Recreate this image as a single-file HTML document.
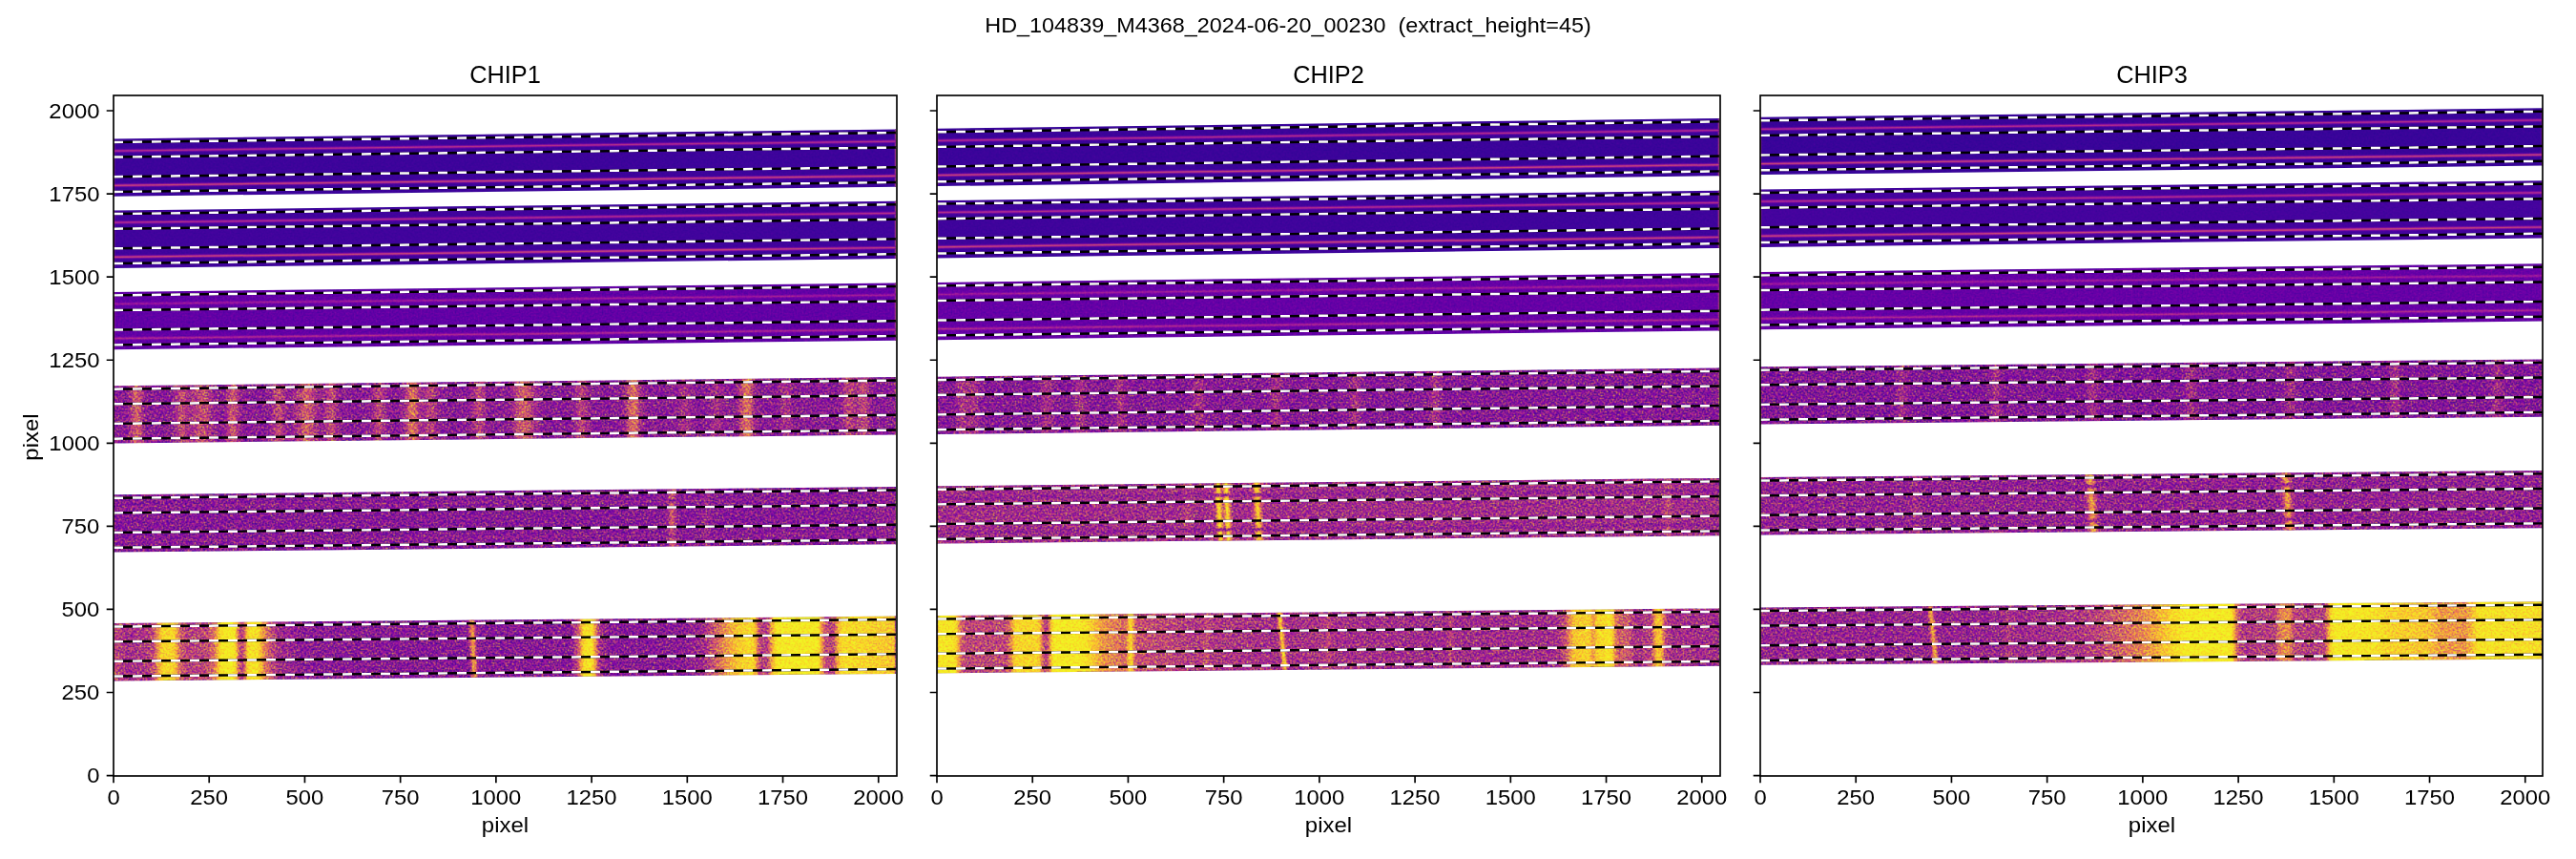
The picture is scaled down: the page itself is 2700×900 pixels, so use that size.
<!DOCTYPE html><html><head><meta charset="utf-8"><style>html,body{margin:0;padding:0;background:#fff;overflow:hidden}svg{display:block;will-change:transform}text{font-family:"Liberation Sans",sans-serif;fill:#000}</style></head><body>
<svg width="2700" height="900" viewBox="0 0 2700 900">
<defs><linearGradient id="g00" gradientUnits="userSpaceOnUse" x1="119" y1="0" x2="939" y2="0"><stop offset="0.0000" stop-color="#141414"/><stop offset="1.0000" stop-color="#141414"/></linearGradient>
<linearGradient id="g01" gradientUnits="userSpaceOnUse" x1="119" y1="0" x2="939" y2="0"><stop offset="0.0000" stop-color="#161616"/><stop offset="1.0000" stop-color="#161616"/></linearGradient>
<linearGradient id="g02" gradientUnits="userSpaceOnUse" x1="119" y1="0" x2="939" y2="0"><stop offset="0.0000" stop-color="#282828"/><stop offset="1.0000" stop-color="#282828"/></linearGradient>
<linearGradient id="g03" gradientUnits="userSpaceOnUse" x1="119" y1="0" x2="939" y2="0"><stop offset="0.0000" stop-color="#454545"/><stop offset="0.0122" stop-color="#454545"/><stop offset="0.0171" stop-color="#494949"/><stop offset="0.0195" stop-color="#505050"/><stop offset="0.0207" stop-color="#555555"/><stop offset="0.0268" stop-color="#7a7a7a"/><stop offset="0.0280" stop-color="#7f7f7f"/><stop offset="0.0293" stop-color="#818181"/><stop offset="0.0305" stop-color="#808080"/><stop offset="0.0317" stop-color="#7c7c7c"/><stop offset="0.0329" stop-color="#767676"/><stop offset="0.0378" stop-color="#585858"/><stop offset="0.0402" stop-color="#4d4d4d"/><stop offset="0.0427" stop-color="#484848"/><stop offset="0.0476" stop-color="#454545"/><stop offset="0.0683" stop-color="#454545"/><stop offset="0.0744" stop-color="#474747"/><stop offset="0.0780" stop-color="#4f4f4f"/><stop offset="0.0854" stop-color="#717171"/><stop offset="0.0866" stop-color="#747474"/><stop offset="0.0878" stop-color="#747474"/><stop offset="0.0902" stop-color="#707070"/><stop offset="0.0951" stop-color="#5d5d5d"/><stop offset="0.0976" stop-color="#585858"/><stop offset="0.0988" stop-color="#585858"/><stop offset="0.1024" stop-color="#5e5e5e"/><stop offset="0.1098" stop-color="#727272"/><stop offset="0.1134" stop-color="#757575"/><stop offset="0.1159" stop-color="#737373"/><stop offset="0.1183" stop-color="#6e6e6e"/><stop offset="0.1256" stop-color="#575757"/><stop offset="0.1293" stop-color="#4e4e4e"/><stop offset="0.1341" stop-color="#484848"/><stop offset="0.1378" stop-color="#474747"/><stop offset="0.1402" stop-color="#4a4a4a"/><stop offset="0.1427" stop-color="#505050"/><stop offset="0.1451" stop-color="#5b5b5b"/><stop offset="0.1488" stop-color="#707070"/><stop offset="0.1500" stop-color="#767676"/><stop offset="0.1512" stop-color="#797979"/><stop offset="0.1524" stop-color="#7a7a7a"/><stop offset="0.1537" stop-color="#797979"/><stop offset="0.1549" stop-color="#757575"/><stop offset="0.1598" stop-color="#5a5a5a"/><stop offset="0.1622" stop-color="#4f4f4f"/><stop offset="0.1646" stop-color="#494949"/><stop offset="0.1671" stop-color="#464646"/><stop offset="0.1902" stop-color="#454545"/><stop offset="0.1976" stop-color="#474747"/><stop offset="0.2012" stop-color="#4d4d4d"/><stop offset="0.2037" stop-color="#575757"/><stop offset="0.2085" stop-color="#6e6e6e"/><stop offset="0.2098" stop-color="#727272"/><stop offset="0.2110" stop-color="#737373"/><stop offset="0.2122" stop-color="#737373"/><stop offset="0.2134" stop-color="#707070"/><stop offset="0.2183" stop-color="#595959"/><stop offset="0.2207" stop-color="#505050"/><stop offset="0.2232" stop-color="#4b4b4b"/><stop offset="0.2256" stop-color="#4a4a4a"/><stop offset="0.2280" stop-color="#4c4c4c"/><stop offset="0.2317" stop-color="#545454"/><stop offset="0.2341" stop-color="#5b5b5b"/><stop offset="0.2415" stop-color="#777777"/><stop offset="0.2439" stop-color="#7d7d7d"/><stop offset="0.2463" stop-color="#808080"/><stop offset="0.2488" stop-color="#7e7e7e"/><stop offset="0.2512" stop-color="#787878"/><stop offset="0.2598" stop-color="#595959"/><stop offset="0.2622" stop-color="#525252"/><stop offset="0.2646" stop-color="#4f4f4f"/><stop offset="0.2671" stop-color="#4f4f4f"/><stop offset="0.2683" stop-color="#515151"/><stop offset="0.2707" stop-color="#585858"/><stop offset="0.2756" stop-color="#6c6c6c"/><stop offset="0.2780" stop-color="#707070"/><stop offset="0.2805" stop-color="#6c6c6c"/><stop offset="0.2854" stop-color="#565656"/><stop offset="0.2878" stop-color="#4d4d4d"/><stop offset="0.2915" stop-color="#474747"/><stop offset="0.2976" stop-color="#454545"/><stop offset="0.3232" stop-color="#454545"/><stop offset="0.3268" stop-color="#484848"/><stop offset="0.3293" stop-color="#4d4d4d"/><stop offset="0.3317" stop-color="#555555"/><stop offset="0.3366" stop-color="#696969"/><stop offset="0.3390" stop-color="#6d6d6d"/><stop offset="0.3415" stop-color="#696969"/><stop offset="0.3476" stop-color="#505050"/><stop offset="0.3500" stop-color="#4a4a4a"/><stop offset="0.3549" stop-color="#454545"/><stop offset="0.3622" stop-color="#454545"/><stop offset="0.3671" stop-color="#484848"/><stop offset="0.3695" stop-color="#4e4e4e"/><stop offset="0.3707" stop-color="#525252"/><stop offset="0.3732" stop-color="#5e5e5e"/><stop offset="0.3780" stop-color="#808080"/><stop offset="0.3793" stop-color="#878787"/><stop offset="0.3805" stop-color="#8c8c8c"/><stop offset="0.3817" stop-color="#8f8f8f"/><stop offset="0.3829" stop-color="#8f8f8f"/><stop offset="0.3841" stop-color="#8c8c8c"/><stop offset="0.3854" stop-color="#868686"/><stop offset="0.3915" stop-color="#5e5e5e"/><stop offset="0.3939" stop-color="#555555"/><stop offset="0.3951" stop-color="#535353"/><stop offset="0.3976" stop-color="#555555"/><stop offset="0.4037" stop-color="#6a6a6a"/><stop offset="0.4061" stop-color="#6d6d6d"/><stop offset="0.4085" stop-color="#686868"/><stop offset="0.4134" stop-color="#545454"/><stop offset="0.4159" stop-color="#4c4c4c"/><stop offset="0.4195" stop-color="#464646"/><stop offset="0.4232" stop-color="#454545"/><stop offset="0.4476" stop-color="#454545"/><stop offset="0.4537" stop-color="#474747"/><stop offset="0.4573" stop-color="#4e4e4e"/><stop offset="0.4646" stop-color="#6a6a6a"/><stop offset="0.4671" stop-color="#6d6d6d"/><stop offset="0.4695" stop-color="#686868"/><stop offset="0.4756" stop-color="#4f4f4f"/><stop offset="0.4793" stop-color="#484848"/><stop offset="0.4866" stop-color="#454545"/><stop offset="0.5012" stop-color="#474747"/><stop offset="0.5061" stop-color="#4c4c4c"/><stop offset="0.5098" stop-color="#535353"/><stop offset="0.5122" stop-color="#5b5b5b"/><stop offset="0.5207" stop-color="#7d7d7d"/><stop offset="0.5232" stop-color="#828282"/><stop offset="0.5244" stop-color="#838383"/><stop offset="0.5268" stop-color="#828282"/><stop offset="0.5293" stop-color="#7d7d7d"/><stop offset="0.5378" stop-color="#5b5b5b"/><stop offset="0.5415" stop-color="#505050"/><stop offset="0.5451" stop-color="#4a4a4a"/><stop offset="0.5488" stop-color="#474747"/><stop offset="0.5561" stop-color="#454545"/><stop offset="0.5768" stop-color="#454545"/><stop offset="0.5854" stop-color="#474747"/><stop offset="0.5878" stop-color="#4a4a4a"/><stop offset="0.5902" stop-color="#515151"/><stop offset="0.5963" stop-color="#6a6a6a"/><stop offset="0.5988" stop-color="#6d6d6d"/><stop offset="0.6012" stop-color="#686868"/><stop offset="0.6061" stop-color="#545454"/><stop offset="0.6085" stop-color="#4c4c4c"/><stop offset="0.6122" stop-color="#464646"/><stop offset="0.6183" stop-color="#454545"/><stop offset="0.6451" stop-color="#454545"/><stop offset="0.6488" stop-color="#484848"/><stop offset="0.6512" stop-color="#4d4d4d"/><stop offset="0.6524" stop-color="#515151"/><stop offset="0.6549" stop-color="#5d5d5d"/><stop offset="0.6610" stop-color="#868686"/><stop offset="0.6622" stop-color="#8c8c8c"/><stop offset="0.6634" stop-color="#8f8f8f"/><stop offset="0.6646" stop-color="#8f8f8f"/><stop offset="0.6659" stop-color="#8c8c8c"/><stop offset="0.6671" stop-color="#878787"/><stop offset="0.6683" stop-color="#808080"/><stop offset="0.6732" stop-color="#5e5e5e"/><stop offset="0.6756" stop-color="#525252"/><stop offset="0.6780" stop-color="#4a4a4a"/><stop offset="0.6817" stop-color="#464646"/><stop offset="0.6890" stop-color="#454545"/><stop offset="0.7159" stop-color="#464646"/><stop offset="0.7207" stop-color="#4b4b4b"/><stop offset="0.7268" stop-color="#595959"/><stop offset="0.7293" stop-color="#5c5c5c"/><stop offset="0.7317" stop-color="#5b5b5b"/><stop offset="0.7378" stop-color="#4d4d4d"/><stop offset="0.7415" stop-color="#474747"/><stop offset="0.7463" stop-color="#454545"/><stop offset="0.7561" stop-color="#454545"/><stop offset="0.7610" stop-color="#484848"/><stop offset="0.7634" stop-color="#4d4d4d"/><stop offset="0.7695" stop-color="#5b5b5b"/><stop offset="0.7720" stop-color="#5c5c5c"/><stop offset="0.7744" stop-color="#595959"/><stop offset="0.7793" stop-color="#4d4d4d"/><stop offset="0.7817" stop-color="#494949"/><stop offset="0.7854" stop-color="#464646"/><stop offset="0.7902" stop-color="#454545"/><stop offset="0.7939" stop-color="#484848"/><stop offset="0.7963" stop-color="#4d4d4d"/><stop offset="0.7976" stop-color="#515151"/><stop offset="0.8000" stop-color="#5d5d5d"/><stop offset="0.8061" stop-color="#868686"/><stop offset="0.8073" stop-color="#8c8c8c"/><stop offset="0.8085" stop-color="#8f8f8f"/><stop offset="0.8098" stop-color="#8f8f8f"/><stop offset="0.8110" stop-color="#8c8c8c"/><stop offset="0.8122" stop-color="#878787"/><stop offset="0.8134" stop-color="#808080"/><stop offset="0.8183" stop-color="#5e5e5e"/><stop offset="0.8207" stop-color="#525252"/><stop offset="0.8220" stop-color="#4e4e4e"/><stop offset="0.8244" stop-color="#484848"/><stop offset="0.8280" stop-color="#454545"/><stop offset="0.8402" stop-color="#454545"/><stop offset="0.8463" stop-color="#464646"/><stop offset="0.8500" stop-color="#4b4b4b"/><stop offset="0.8561" stop-color="#595959"/><stop offset="0.8585" stop-color="#5c5c5c"/><stop offset="0.8598" stop-color="#5c5c5c"/><stop offset="0.8622" stop-color="#585858"/><stop offset="0.8683" stop-color="#4a4a4a"/><stop offset="0.8732" stop-color="#464646"/><stop offset="0.9244" stop-color="#454545"/><stop offset="0.9280" stop-color="#484848"/><stop offset="0.9305" stop-color="#4d4d4d"/><stop offset="0.9329" stop-color="#555555"/><stop offset="0.9378" stop-color="#6b6b6b"/><stop offset="0.9402" stop-color="#707070"/><stop offset="0.9427" stop-color="#6d6d6d"/><stop offset="0.9476" stop-color="#5d5d5d"/><stop offset="0.9500" stop-color="#5b5b5b"/><stop offset="0.9524" stop-color="#606060"/><stop offset="0.9561" stop-color="#6d6d6d"/><stop offset="0.9585" stop-color="#707070"/><stop offset="0.9610" stop-color="#6c6c6c"/><stop offset="0.9659" stop-color="#565656"/><stop offset="0.9683" stop-color="#4d4d4d"/><stop offset="0.9720" stop-color="#474747"/><stop offset="0.9768" stop-color="#454545"/><stop offset="1.0000" stop-color="#454545"/></linearGradient>
<linearGradient id="g04" gradientUnits="userSpaceOnUse" x1="119" y1="0" x2="939" y2="0"><stop offset="0.0000" stop-color="#434343"/><stop offset="0.7012" stop-color="#434343"/><stop offset="0.7049" stop-color="#454545"/><stop offset="0.7061" stop-color="#484848"/><stop offset="0.7073" stop-color="#4d4d4d"/><stop offset="0.7085" stop-color="#555555"/><stop offset="0.7122" stop-color="#757575"/><stop offset="0.7134" stop-color="#7b7b7b"/><stop offset="0.7146" stop-color="#7a7a7a"/><stop offset="0.7159" stop-color="#747474"/><stop offset="0.7195" stop-color="#535353"/><stop offset="0.7207" stop-color="#4c4c4c"/><stop offset="0.7220" stop-color="#474747"/><stop offset="0.7232" stop-color="#444444"/><stop offset="0.7256" stop-color="#434343"/><stop offset="0.7488" stop-color="#444444"/><stop offset="0.7512" stop-color="#474747"/><stop offset="0.7549" stop-color="#525252"/><stop offset="0.7573" stop-color="#565656"/><stop offset="0.7585" stop-color="#545454"/><stop offset="0.7622" stop-color="#4a4a4a"/><stop offset="0.7646" stop-color="#454545"/><stop offset="0.7695" stop-color="#434343"/><stop offset="0.9598" stop-color="#434343"/><stop offset="0.9695" stop-color="#454545"/><stop offset="0.9829" stop-color="#4c4c4c"/><stop offset="0.9878" stop-color="#4d4d4d"/><stop offset="1.0000" stop-color="#484848"/></linearGradient>
<linearGradient id="g05" gradientUnits="userSpaceOnUse" x1="119" y1="0" x2="939" y2="0"><stop offset="0.0000" stop-color="#6e6e6e"/><stop offset="0.0146" stop-color="#585858"/><stop offset="0.0183" stop-color="#555555"/><stop offset="0.0354" stop-color="#595959"/><stop offset="0.0476" stop-color="#666666"/><stop offset="0.0500" stop-color="#6c6c6c"/><stop offset="0.0512" stop-color="#727272"/><stop offset="0.0524" stop-color="#7b7b7b"/><stop offset="0.0561" stop-color="#a2a2a2"/><stop offset="0.0585" stop-color="#b9b9b9"/><stop offset="0.0610" stop-color="#cacaca"/><stop offset="0.0622" stop-color="#d0d0d0"/><stop offset="0.0646" stop-color="#d4d4d4"/><stop offset="0.0732" stop-color="#d5d5d5"/><stop offset="0.0756" stop-color="#d4d4d4"/><stop offset="0.0768" stop-color="#d2d2d2"/><stop offset="0.0780" stop-color="#cccccc"/><stop offset="0.0793" stop-color="#c2c2c2"/><stop offset="0.0829" stop-color="#989898"/><stop offset="0.0841" stop-color="#8c8c8c"/><stop offset="0.0854" stop-color="#848484"/><stop offset="0.0878" stop-color="#7a7a7a"/><stop offset="0.0927" stop-color="#6b6b6b"/><stop offset="0.0951" stop-color="#666666"/><stop offset="0.0976" stop-color="#656565"/><stop offset="0.1146" stop-color="#696969"/><stop offset="0.1171" stop-color="#6c6c6c"/><stop offset="0.1195" stop-color="#717171"/><stop offset="0.1244" stop-color="#7d7d7d"/><stop offset="0.1268" stop-color="#858585"/><stop offset="0.1280" stop-color="#8c8c8c"/><stop offset="0.1293" stop-color="#969696"/><stop offset="0.1341" stop-color="#c8c8c8"/><stop offset="0.1354" stop-color="#d2d2d2"/><stop offset="0.1366" stop-color="#d9d9d9"/><stop offset="0.1378" stop-color="#dedede"/><stop offset="0.1402" stop-color="#e2e2e2"/><stop offset="0.1512" stop-color="#e2e2e2"/><stop offset="0.1537" stop-color="#e0e0e0"/><stop offset="0.1549" stop-color="#dbdbdb"/><stop offset="0.1561" stop-color="#cecece"/><stop offset="0.1573" stop-color="#bababa"/><stop offset="0.1598" stop-color="#888888"/><stop offset="0.1610" stop-color="#767676"/><stop offset="0.1622" stop-color="#6b6b6b"/><stop offset="0.1634" stop-color="#676767"/><stop offset="0.1646" stop-color="#686868"/><stop offset="0.1659" stop-color="#717171"/><stop offset="0.1671" stop-color="#838383"/><stop offset="0.1695" stop-color="#b4b4b4"/><stop offset="0.1707" stop-color="#c7c7c7"/><stop offset="0.1720" stop-color="#d3d3d3"/><stop offset="0.1732" stop-color="#d9d9d9"/><stop offset="0.1756" stop-color="#dddddd"/><stop offset="0.1829" stop-color="#dddddd"/><stop offset="0.1841" stop-color="#dbdbdb"/><stop offset="0.1854" stop-color="#d7d7d7"/><stop offset="0.1866" stop-color="#d0d0d0"/><stop offset="0.1902" stop-color="#b2b2b2"/><stop offset="0.1927" stop-color="#a0a0a0"/><stop offset="0.1988" stop-color="#7d7d7d"/><stop offset="0.2012" stop-color="#717171"/><stop offset="0.2049" stop-color="#666666"/><stop offset="0.2110" stop-color="#565656"/><stop offset="0.2146" stop-color="#505050"/><stop offset="0.2427" stop-color="#414141"/><stop offset="0.4524" stop-color="#3e3e3e"/><stop offset="0.5817" stop-color="#404040"/><stop offset="0.5841" stop-color="#424242"/><stop offset="0.5866" stop-color="#494949"/><stop offset="0.5890" stop-color="#565656"/><stop offset="0.5927" stop-color="#6d6d6d"/><stop offset="0.5939" stop-color="#767676"/><stop offset="0.5951" stop-color="#848484"/><stop offset="0.5963" stop-color="#969696"/><stop offset="0.5988" stop-color="#c0c0c0"/><stop offset="0.6000" stop-color="#cfcfcf"/><stop offset="0.6012" stop-color="#d9d9d9"/><stop offset="0.6024" stop-color="#dcdcdc"/><stop offset="0.6037" stop-color="#dddddd"/><stop offset="0.6085" stop-color="#dedede"/><stop offset="0.6110" stop-color="#dcdcdc"/><stop offset="0.6122" stop-color="#d8d8d8"/><stop offset="0.6134" stop-color="#cecece"/><stop offset="0.6146" stop-color="#bebebe"/><stop offset="0.6183" stop-color="#787878"/><stop offset="0.6195" stop-color="#676767"/><stop offset="0.6207" stop-color="#5c5c5c"/><stop offset="0.6220" stop-color="#565656"/><stop offset="0.6232" stop-color="#525252"/><stop offset="0.6329" stop-color="#414141"/><stop offset="0.6378" stop-color="#3e3e3e"/><stop offset="0.7293" stop-color="#404040"/><stop offset="0.7354" stop-color="#434343"/><stop offset="0.7500" stop-color="#4d4d4d"/><stop offset="0.7537" stop-color="#515151"/><stop offset="0.7561" stop-color="#575757"/><stop offset="0.7671" stop-color="#767676"/><stop offset="0.7854" stop-color="#aeaeae"/><stop offset="0.7963" stop-color="#c8c8c8"/><stop offset="0.7988" stop-color="#cdcdcd"/><stop offset="0.8012" stop-color="#cfcfcf"/><stop offset="0.8146" stop-color="#d7d7d7"/><stop offset="0.8171" stop-color="#d7d7d7"/><stop offset="0.8183" stop-color="#d4d4d4"/><stop offset="0.8195" stop-color="#cbcbcb"/><stop offset="0.8207" stop-color="#bdbdbd"/><stop offset="0.8232" stop-color="#959595"/><stop offset="0.8244" stop-color="#848484"/><stop offset="0.8256" stop-color="#767676"/><stop offset="0.8268" stop-color="#6d6d6d"/><stop offset="0.8280" stop-color="#666666"/><stop offset="0.8293" stop-color="#626262"/><stop offset="0.8317" stop-color="#606060"/><stop offset="0.8341" stop-color="#636363"/><stop offset="0.8354" stop-color="#676767"/><stop offset="0.8366" stop-color="#707070"/><stop offset="0.8378" stop-color="#7e7e7e"/><stop offset="0.8402" stop-color="#a3a3a3"/><stop offset="0.8415" stop-color="#b4b4b4"/><stop offset="0.8427" stop-color="#c1c1c1"/><stop offset="0.8439" stop-color="#cbcbcb"/><stop offset="0.8463" stop-color="#d9d9d9"/><stop offset="0.8476" stop-color="#dedede"/><stop offset="0.8500" stop-color="#e2e2e2"/><stop offset="0.8963" stop-color="#e2e2e2"/><stop offset="0.9000" stop-color="#e1e1e1"/><stop offset="0.9012" stop-color="#dddddd"/><stop offset="0.9024" stop-color="#d5d5d5"/><stop offset="0.9037" stop-color="#c6c6c6"/><stop offset="0.9061" stop-color="#9f9f9f"/><stop offset="0.9073" stop-color="#8e8e8e"/><stop offset="0.9085" stop-color="#808080"/><stop offset="0.9098" stop-color="#767676"/><stop offset="0.9110" stop-color="#6e6e6e"/><stop offset="0.9122" stop-color="#696969"/><stop offset="0.9146" stop-color="#666666"/><stop offset="0.9183" stop-color="#6a6a6a"/><stop offset="0.9195" stop-color="#6d6d6d"/><stop offset="0.9207" stop-color="#757575"/><stop offset="0.9220" stop-color="#828282"/><stop offset="0.9256" stop-color="#b5b5b5"/><stop offset="0.9268" stop-color="#c2c2c2"/><stop offset="0.9280" stop-color="#cbcbcb"/><stop offset="0.9293" stop-color="#d0d0d0"/><stop offset="0.9329" stop-color="#d8d8d8"/><stop offset="0.9366" stop-color="#d9d9d9"/><stop offset="0.9744" stop-color="#d1d1d1"/><stop offset="1.0000" stop-color="#c8c8c8"/></linearGradient>
<linearGradient id="s050" gradientUnits="userSpaceOnUse" x1="456.68" y1="0" x2="467.68" y2="0" gradientTransform="matrix(1 0 0.04975 1 0 0)"><stop offset="0.000" stop-color="#b1b1b1" stop-opacity="0.044"/><stop offset="0.100" stop-color="#b1b1b1" stop-opacity="0.135"/><stop offset="0.200" stop-color="#b1b1b1" stop-opacity="0.325"/><stop offset="0.300" stop-color="#b1b1b1" stop-opacity="0.607"/><stop offset="0.400" stop-color="#b1b1b1" stop-opacity="0.882"/><stop offset="0.500" stop-color="#b1b1b1" stop-opacity="1.000"/><stop offset="0.600" stop-color="#b1b1b1" stop-opacity="0.882"/><stop offset="0.700" stop-color="#b1b1b1" stop-opacity="0.607"/><stop offset="0.800" stop-color="#b1b1b1" stop-opacity="0.325"/><stop offset="0.900" stop-color="#b1b1b1" stop-opacity="0.135"/><stop offset="1.000" stop-color="#b1b1b1" stop-opacity="0.044"/></linearGradient>
<linearGradient id="g10" gradientUnits="userSpaceOnUse" x1="982" y1="0" x2="1802" y2="0"><stop offset="0.0000" stop-color="#131313"/><stop offset="1.0000" stop-color="#131313"/></linearGradient>
<linearGradient id="g11" gradientUnits="userSpaceOnUse" x1="982" y1="0" x2="1802" y2="0"><stop offset="0.0000" stop-color="#151515"/><stop offset="1.0000" stop-color="#151515"/></linearGradient>
<linearGradient id="g12" gradientUnits="userSpaceOnUse" x1="982" y1="0" x2="1802" y2="0"><stop offset="0.0000" stop-color="#2a2a2a"/><stop offset="1.0000" stop-color="#2a2a2a"/></linearGradient>
<linearGradient id="g13" gradientUnits="userSpaceOnUse" x1="982" y1="0" x2="1802" y2="0"><stop offset="0.0000" stop-color="#434343"/><stop offset="0.0171" stop-color="#434343"/><stop offset="0.0220" stop-color="#454545"/><stop offset="0.0256" stop-color="#4c4c4c"/><stop offset="0.0305" stop-color="#5d5d5d"/><stop offset="0.0329" stop-color="#5f5f5f"/><stop offset="0.0390" stop-color="#565656"/><stop offset="0.0402" stop-color="#565656"/><stop offset="0.0439" stop-color="#5d5d5d"/><stop offset="0.0463" stop-color="#5f5f5f"/><stop offset="0.0488" stop-color="#5b5b5b"/><stop offset="0.0524" stop-color="#4e4e4e"/><stop offset="0.0549" stop-color="#484848"/><stop offset="0.0585" stop-color="#434343"/><stop offset="0.0634" stop-color="#434343"/><stop offset="0.1280" stop-color="#434343"/><stop offset="0.1317" stop-color="#474747"/><stop offset="0.1341" stop-color="#4e4e4e"/><stop offset="0.1378" stop-color="#5b5b5b"/><stop offset="0.1402" stop-color="#5f5f5f"/><stop offset="0.1427" stop-color="#5c5c5c"/><stop offset="0.1476" stop-color="#4b4b4b"/><stop offset="0.1500" stop-color="#464646"/><stop offset="0.1524" stop-color="#444444"/><stop offset="0.1561" stop-color="#434343"/><stop offset="0.1683" stop-color="#434343"/><stop offset="0.1732" stop-color="#454545"/><stop offset="0.1768" stop-color="#4c4c4c"/><stop offset="0.1817" stop-color="#5c5c5c"/><stop offset="0.1841" stop-color="#5f5f5f"/><stop offset="0.1866" stop-color="#5a5a5a"/><stop offset="0.1902" stop-color="#4d4d4d"/><stop offset="0.1927" stop-color="#474747"/><stop offset="0.1951" stop-color="#444444"/><stop offset="0.1988" stop-color="#434343"/><stop offset="0.2232" stop-color="#444444"/><stop offset="0.2268" stop-color="#494949"/><stop offset="0.2329" stop-color="#5d5d5d"/><stop offset="0.2354" stop-color="#5f5f5f"/><stop offset="0.2378" stop-color="#5a5a5a"/><stop offset="0.2427" stop-color="#494949"/><stop offset="0.2451" stop-color="#454545"/><stop offset="0.2476" stop-color="#434343"/><stop offset="0.3207" stop-color="#434343"/><stop offset="0.3256" stop-color="#464646"/><stop offset="0.3280" stop-color="#4c4c4c"/><stop offset="0.3329" stop-color="#5c5c5c"/><stop offset="0.3354" stop-color="#5f5f5f"/><stop offset="0.3378" stop-color="#5a5a5a"/><stop offset="0.3427" stop-color="#4a4a4a"/><stop offset="0.3451" stop-color="#454545"/><stop offset="0.3476" stop-color="#434343"/><stop offset="0.4183" stop-color="#434343"/><stop offset="0.4220" stop-color="#444444"/><stop offset="0.4244" stop-color="#474747"/><stop offset="0.4268" stop-color="#4d4d4d"/><stop offset="0.4305" stop-color="#5a5a5a"/><stop offset="0.4329" stop-color="#5f5f5f"/><stop offset="0.4354" stop-color="#5c5c5c"/><stop offset="0.4402" stop-color="#4c4c4c"/><stop offset="0.4427" stop-color="#464646"/><stop offset="0.4476" stop-color="#434343"/><stop offset="0.5220" stop-color="#434343"/><stop offset="0.5244" stop-color="#454545"/><stop offset="0.5268" stop-color="#494949"/><stop offset="0.5329" stop-color="#5d5d5d"/><stop offset="0.5354" stop-color="#5f5f5f"/><stop offset="0.5378" stop-color="#5a5a5a"/><stop offset="0.5427" stop-color="#494949"/><stop offset="0.5451" stop-color="#454545"/><stop offset="0.5476" stop-color="#434343"/><stop offset="0.6207" stop-color="#434343"/><stop offset="0.6244" stop-color="#444444"/><stop offset="0.6268" stop-color="#464646"/><stop offset="0.6293" stop-color="#4b4b4b"/><stop offset="0.6341" stop-color="#5c5c5c"/><stop offset="0.6366" stop-color="#5f5f5f"/><stop offset="0.6390" stop-color="#5b5b5b"/><stop offset="0.6427" stop-color="#4e4e4e"/><stop offset="0.6451" stop-color="#474747"/><stop offset="0.6476" stop-color="#444444"/><stop offset="0.6524" stop-color="#434343"/><stop offset="1.0000" stop-color="#434343"/></linearGradient>
<linearGradient id="g14" gradientUnits="userSpaceOnUse" x1="982" y1="0" x2="1802" y2="0"><stop offset="0.0000" stop-color="#434343"/><stop offset="0.3073" stop-color="#434343"/><stop offset="0.3122" stop-color="#454545"/><stop offset="0.3146" stop-color="#4b4b4b"/><stop offset="0.3171" stop-color="#525252"/><stop offset="0.3195" stop-color="#555555"/><stop offset="0.3207" stop-color="#545454"/><stop offset="0.3244" stop-color="#494949"/><stop offset="0.3268" stop-color="#454545"/><stop offset="0.3305" stop-color="#434343"/><stop offset="0.3390" stop-color="#434343"/><stop offset="0.3451" stop-color="#444444"/><stop offset="0.3500" stop-color="#484848"/><stop offset="0.3610" stop-color="#595959"/><stop offset="0.3659" stop-color="#5d5d5d"/><stop offset="0.3707" stop-color="#595959"/><stop offset="0.3817" stop-color="#484848"/><stop offset="0.3902" stop-color="#434343"/><stop offset="0.3976" stop-color="#454545"/><stop offset="0.4061" stop-color="#515151"/><stop offset="0.4098" stop-color="#545454"/><stop offset="0.4134" stop-color="#515151"/><stop offset="0.4220" stop-color="#454545"/><stop offset="0.4305" stop-color="#434343"/><stop offset="0.9207" stop-color="#434343"/><stop offset="0.9244" stop-color="#434343"/><stop offset="0.9268" stop-color="#454545"/><stop offset="0.9293" stop-color="#4c4c4c"/><stop offset="0.9329" stop-color="#5c5c5c"/><stop offset="0.9341" stop-color="#5f5f5f"/><stop offset="0.9354" stop-color="#5e5e5e"/><stop offset="0.9366" stop-color="#5b5b5b"/><stop offset="0.9402" stop-color="#4a4a4a"/><stop offset="0.9415" stop-color="#474747"/><stop offset="0.9451" stop-color="#434343"/><stop offset="1.0000" stop-color="#434343"/></linearGradient>
<linearGradient id="s140" gradientUnits="userSpaceOnUse" x1="1246.31" y1="0" x2="1256.31" y2="0" gradientTransform="matrix(1 0 0.04975 1 0 0)"><stop offset="0.000" stop-color="#dedede" stop-opacity="0.044"/><stop offset="0.100" stop-color="#dedede" stop-opacity="0.135"/><stop offset="0.200" stop-color="#dedede" stop-opacity="0.325"/><stop offset="0.300" stop-color="#dedede" stop-opacity="0.607"/><stop offset="0.400" stop-color="#dedede" stop-opacity="0.882"/><stop offset="0.500" stop-color="#dedede" stop-opacity="1.000"/><stop offset="0.600" stop-color="#dedede" stop-opacity="0.882"/><stop offset="0.700" stop-color="#dedede" stop-opacity="0.607"/><stop offset="0.800" stop-color="#dedede" stop-opacity="0.325"/><stop offset="0.900" stop-color="#dedede" stop-opacity="0.135"/><stop offset="1.000" stop-color="#dedede" stop-opacity="0.044"/></linearGradient>
<linearGradient id="s141" gradientUnits="userSpaceOnUse" x1="1254.82" y1="0" x2="1264.82" y2="0" gradientTransform="matrix(1 0 0.04975 1 0 0)"><stop offset="0.000" stop-color="#dedede" stop-opacity="0.044"/><stop offset="0.100" stop-color="#dedede" stop-opacity="0.135"/><stop offset="0.200" stop-color="#dedede" stop-opacity="0.325"/><stop offset="0.300" stop-color="#dedede" stop-opacity="0.607"/><stop offset="0.400" stop-color="#dedede" stop-opacity="0.882"/><stop offset="0.500" stop-color="#dedede" stop-opacity="1.000"/><stop offset="0.600" stop-color="#dedede" stop-opacity="0.882"/><stop offset="0.700" stop-color="#dedede" stop-opacity="0.607"/><stop offset="0.800" stop-color="#dedede" stop-opacity="0.325"/><stop offset="0.900" stop-color="#dedede" stop-opacity="0.135"/><stop offset="1.000" stop-color="#dedede" stop-opacity="0.044"/></linearGradient>
<linearGradient id="s142" gradientUnits="userSpaceOnUse" x1="1285.83" y1="0" x2="1297.83" y2="0" gradientTransform="matrix(1 0 0.04975 1 0 0)"><stop offset="0.000" stop-color="#d3d3d3" stop-opacity="0.044"/><stop offset="0.100" stop-color="#d3d3d3" stop-opacity="0.135"/><stop offset="0.200" stop-color="#d3d3d3" stop-opacity="0.325"/><stop offset="0.300" stop-color="#d3d3d3" stop-opacity="0.607"/><stop offset="0.400" stop-color="#d3d3d3" stop-opacity="0.882"/><stop offset="0.500" stop-color="#d3d3d3" stop-opacity="1.000"/><stop offset="0.600" stop-color="#d3d3d3" stop-opacity="0.882"/><stop offset="0.700" stop-color="#d3d3d3" stop-opacity="0.607"/><stop offset="0.800" stop-color="#d3d3d3" stop-opacity="0.325"/><stop offset="0.900" stop-color="#d3d3d3" stop-opacity="0.135"/><stop offset="1.000" stop-color="#d3d3d3" stop-opacity="0.044"/></linearGradient>
<linearGradient id="g15" gradientUnits="userSpaceOnUse" x1="982" y1="0" x2="1802" y2="0"><stop offset="0.0000" stop-color="#dedede"/><stop offset="0.0207" stop-color="#dedede"/><stop offset="0.0232" stop-color="#dadada"/><stop offset="0.0244" stop-color="#d4d4d4"/><stop offset="0.0256" stop-color="#c8c8c8"/><stop offset="0.0293" stop-color="#999999"/><stop offset="0.0305" stop-color="#8a8a8a"/><stop offset="0.0317" stop-color="#7f7f7f"/><stop offset="0.0329" stop-color="#767676"/><stop offset="0.0341" stop-color="#707070"/><stop offset="0.0354" stop-color="#6c6c6c"/><stop offset="0.0378" stop-color="#6b6b6b"/><stop offset="0.0866" stop-color="#6b6b6b"/><stop offset="0.0878" stop-color="#6c6c6c"/><stop offset="0.0890" stop-color="#707070"/><stop offset="0.0902" stop-color="#767676"/><stop offset="0.0915" stop-color="#7f7f7f"/><stop offset="0.0939" stop-color="#939393"/><stop offset="0.0951" stop-color="#a0a0a0"/><stop offset="0.0976" stop-color="#bdbdbd"/><stop offset="0.0988" stop-color="#c8c8c8"/><stop offset="0.1000" stop-color="#cfcfcf"/><stop offset="0.1024" stop-color="#d2d2d2"/><stop offset="0.1244" stop-color="#d3d3d3"/><stop offset="0.1280" stop-color="#d2d2d2"/><stop offset="0.1293" stop-color="#d1d1d1"/><stop offset="0.1305" stop-color="#cccccc"/><stop offset="0.1317" stop-color="#c0c0c0"/><stop offset="0.1329" stop-color="#acacac"/><stop offset="0.1341" stop-color="#959595"/><stop offset="0.1354" stop-color="#818181"/><stop offset="0.1366" stop-color="#747474"/><stop offset="0.1378" stop-color="#6d6d6d"/><stop offset="0.1390" stop-color="#6a6a6a"/><stop offset="0.1402" stop-color="#6a6a6a"/><stop offset="0.1415" stop-color="#707070"/><stop offset="0.1427" stop-color="#7f7f7f"/><stop offset="0.1439" stop-color="#989898"/><stop offset="0.1451" stop-color="#b3b3b3"/><stop offset="0.1463" stop-color="#c8c8c8"/><stop offset="0.1476" stop-color="#d5d5d5"/><stop offset="0.1488" stop-color="#dddddd"/><stop offset="0.1500" stop-color="#e0e0e0"/><stop offset="0.1537" stop-color="#e2e2e2"/><stop offset="0.1878" stop-color="#dedede"/><stop offset="0.1915" stop-color="#dcdcdc"/><stop offset="0.1939" stop-color="#d7d7d7"/><stop offset="0.2134" stop-color="#a7a7a7"/><stop offset="0.2402" stop-color="#868686"/><stop offset="0.2415" stop-color="#898989"/><stop offset="0.2427" stop-color="#969696"/><stop offset="0.2451" stop-color="#c1c1c1"/><stop offset="0.2463" stop-color="#cfcfcf"/><stop offset="0.2476" stop-color="#d4d4d4"/><stop offset="0.2488" stop-color="#cfcfcf"/><stop offset="0.2500" stop-color="#bfbfbf"/><stop offset="0.2524" stop-color="#8e8e8e"/><stop offset="0.2537" stop-color="#7d7d7d"/><stop offset="0.2549" stop-color="#757575"/><stop offset="0.2561" stop-color="#737373"/><stop offset="0.2927" stop-color="#6a6a6a"/><stop offset="0.3268" stop-color="#5e5e5e"/><stop offset="0.3305" stop-color="#5e5e5e"/><stop offset="0.3390" stop-color="#636363"/><stop offset="0.3415" stop-color="#676767"/><stop offset="0.3439" stop-color="#6f6f6f"/><stop offset="0.3451" stop-color="#707070"/><stop offset="0.3463" stop-color="#6d6d6d"/><stop offset="0.3488" stop-color="#626262"/><stop offset="0.3500" stop-color="#5f5f5f"/><stop offset="0.3549" stop-color="#5d5d5d"/><stop offset="0.4341" stop-color="#545454"/><stop offset="0.4500" stop-color="#545454"/><stop offset="0.4927" stop-color="#595959"/><stop offset="0.4951" stop-color="#5c5c5c"/><stop offset="0.4988" stop-color="#676767"/><stop offset="0.5000" stop-color="#696969"/><stop offset="0.5012" stop-color="#686868"/><stop offset="0.5024" stop-color="#656565"/><stop offset="0.5073" stop-color="#575757"/><stop offset="0.5110" stop-color="#545454"/><stop offset="0.6488" stop-color="#505050"/><stop offset="0.6512" stop-color="#515151"/><stop offset="0.6524" stop-color="#555555"/><stop offset="0.6537" stop-color="#5d5d5d"/><stop offset="0.6549" stop-color="#676767"/><stop offset="0.6561" stop-color="#6d6d6d"/><stop offset="0.6573" stop-color="#6b6b6b"/><stop offset="0.6598" stop-color="#5a5a5a"/><stop offset="0.6610" stop-color="#535353"/><stop offset="0.6622" stop-color="#515151"/><stop offset="0.6659" stop-color="#505050"/><stop offset="0.7915" stop-color="#515151"/><stop offset="0.7927" stop-color="#525252"/><stop offset="0.7951" stop-color="#585858"/><stop offset="0.8012" stop-color="#6d6d6d"/><stop offset="0.8037" stop-color="#777777"/><stop offset="0.8061" stop-color="#868686"/><stop offset="0.8122" stop-color="#bababa"/><stop offset="0.8134" stop-color="#c2c2c2"/><stop offset="0.8146" stop-color="#c6c6c6"/><stop offset="0.8183" stop-color="#cacaca"/><stop offset="0.8329" stop-color="#d0d0d0"/><stop offset="0.8341" stop-color="#cdcdcd"/><stop offset="0.8354" stop-color="#c6c6c6"/><stop offset="0.8378" stop-color="#aeaeae"/><stop offset="0.8390" stop-color="#a9a9a9"/><stop offset="0.8402" stop-color="#aeaeae"/><stop offset="0.8427" stop-color="#c7c7c7"/><stop offset="0.8439" stop-color="#cfcfcf"/><stop offset="0.8451" stop-color="#d3d3d3"/><stop offset="0.8598" stop-color="#dcdcdc"/><stop offset="0.8610" stop-color="#dbdbdb"/><stop offset="0.8622" stop-color="#d8d8d8"/><stop offset="0.8634" stop-color="#d1d1d1"/><stop offset="0.8646" stop-color="#c3c3c3"/><stop offset="0.8671" stop-color="#9f9f9f"/><stop offset="0.8683" stop-color="#919191"/><stop offset="0.8695" stop-color="#898989"/><stop offset="0.8707" stop-color="#848484"/><stop offset="0.8720" stop-color="#828282"/><stop offset="0.8805" stop-color="#7c7c7c"/><stop offset="0.8829" stop-color="#787878"/><stop offset="0.8854" stop-color="#707070"/><stop offset="0.8915" stop-color="#5a5a5a"/><stop offset="0.8939" stop-color="#565656"/><stop offset="0.9024" stop-color="#595959"/><stop offset="0.9098" stop-color="#5f5f5f"/><stop offset="0.9122" stop-color="#636363"/><stop offset="0.9134" stop-color="#696969"/><stop offset="0.9146" stop-color="#767676"/><stop offset="0.9159" stop-color="#8a8a8a"/><stop offset="0.9171" stop-color="#a1a1a1"/><stop offset="0.9183" stop-color="#b5b5b5"/><stop offset="0.9195" stop-color="#c1c1c1"/><stop offset="0.9207" stop-color="#c6c6c6"/><stop offset="0.9232" stop-color="#c7c7c7"/><stop offset="0.9244" stop-color="#c6c6c6"/><stop offset="0.9256" stop-color="#c1c1c1"/><stop offset="0.9268" stop-color="#b5b5b5"/><stop offset="0.9280" stop-color="#a1a1a1"/><stop offset="0.9293" stop-color="#8a8a8a"/><stop offset="0.9305" stop-color="#757575"/><stop offset="0.9317" stop-color="#686868"/><stop offset="0.9329" stop-color="#616161"/><stop offset="0.9366" stop-color="#595959"/><stop offset="0.9390" stop-color="#555555"/><stop offset="0.9427" stop-color="#545454"/><stop offset="1.0000" stop-color="#505050"/></linearGradient>
<linearGradient id="s150" gradientUnits="userSpaceOnUse" x1="1272.65" y1="0" x2="1281.65" y2="0" gradientTransform="matrix(1 0 0.09950 1 0 0)"><stop offset="0.000" stop-color="#d3d3d3" stop-opacity="0.044"/><stop offset="0.100" stop-color="#d3d3d3" stop-opacity="0.135"/><stop offset="0.200" stop-color="#d3d3d3" stop-opacity="0.325"/><stop offset="0.300" stop-color="#d3d3d3" stop-opacity="0.607"/><stop offset="0.400" stop-color="#d3d3d3" stop-opacity="0.882"/><stop offset="0.500" stop-color="#d3d3d3" stop-opacity="1.000"/><stop offset="0.600" stop-color="#d3d3d3" stop-opacity="0.882"/><stop offset="0.700" stop-color="#d3d3d3" stop-opacity="0.607"/><stop offset="0.800" stop-color="#d3d3d3" stop-opacity="0.325"/><stop offset="0.900" stop-color="#d3d3d3" stop-opacity="0.135"/><stop offset="1.000" stop-color="#d3d3d3" stop-opacity="0.044"/></linearGradient>
<linearGradient id="g20" gradientUnits="userSpaceOnUse" x1="1845" y1="0" x2="2665" y2="0"><stop offset="0.0000" stop-color="#121212"/><stop offset="1.0000" stop-color="#121212"/></linearGradient>
<linearGradient id="g21" gradientUnits="userSpaceOnUse" x1="1845" y1="0" x2="2665" y2="0"><stop offset="0.0000" stop-color="#181818"/><stop offset="1.0000" stop-color="#181818"/></linearGradient>
<linearGradient id="g22" gradientUnits="userSpaceOnUse" x1="1845" y1="0" x2="2665" y2="0"><stop offset="0.0000" stop-color="#2a2a2a"/><stop offset="1.0000" stop-color="#2a2a2a"/></linearGradient>
<linearGradient id="g23" gradientUnits="userSpaceOnUse" x1="1845" y1="0" x2="2665" y2="0"><stop offset="0.0000" stop-color="#404040"/><stop offset="0.1671" stop-color="#404040"/><stop offset="0.1707" stop-color="#424242"/><stop offset="0.1732" stop-color="#454545"/><stop offset="0.1793" stop-color="#575757"/><stop offset="0.1817" stop-color="#5b5b5b"/><stop offset="0.1841" stop-color="#575757"/><stop offset="0.1890" stop-color="#484848"/><stop offset="0.1915" stop-color="#434343"/><stop offset="0.1939" stop-color="#414141"/><stop offset="0.1988" stop-color="#404040"/><stop offset="0.2878" stop-color="#414141"/><stop offset="0.2927" stop-color="#454545"/><stop offset="0.2951" stop-color="#4a4a4a"/><stop offset="0.2988" stop-color="#565656"/><stop offset="0.3012" stop-color="#5b5b5b"/><stop offset="0.3037" stop-color="#585858"/><stop offset="0.3098" stop-color="#464646"/><stop offset="0.3122" stop-color="#424242"/><stop offset="0.3146" stop-color="#414141"/><stop offset="0.4110" stop-color="#414141"/><stop offset="0.4146" stop-color="#424242"/><stop offset="0.4171" stop-color="#464646"/><stop offset="0.4232" stop-color="#585858"/><stop offset="0.4256" stop-color="#5b5b5b"/><stop offset="0.4280" stop-color="#575757"/><stop offset="0.4317" stop-color="#4b4b4b"/><stop offset="0.4341" stop-color="#454545"/><stop offset="0.4366" stop-color="#424242"/><stop offset="0.4402" stop-color="#404040"/><stop offset="0.5378" stop-color="#414141"/><stop offset="0.5402" stop-color="#424242"/><stop offset="0.5427" stop-color="#464646"/><stop offset="0.5488" stop-color="#585858"/><stop offset="0.5512" stop-color="#5b5b5b"/><stop offset="0.5537" stop-color="#565656"/><stop offset="0.5573" stop-color="#4a4a4a"/><stop offset="0.5598" stop-color="#454545"/><stop offset="0.5646" stop-color="#414141"/><stop offset="0.6622" stop-color="#404040"/><stop offset="0.6671" stop-color="#424242"/><stop offset="0.6695" stop-color="#454545"/><stop offset="0.6756" stop-color="#575757"/><stop offset="0.6780" stop-color="#5b5b5b"/><stop offset="0.6805" stop-color="#575757"/><stop offset="0.6866" stop-color="#454545"/><stop offset="0.6890" stop-color="#424242"/><stop offset="0.6927" stop-color="#404040"/><stop offset="0.7976" stop-color="#414141"/><stop offset="0.8024" stop-color="#454545"/><stop offset="0.8049" stop-color="#4a4a4a"/><stop offset="0.8085" stop-color="#565656"/><stop offset="0.8110" stop-color="#5b5b5b"/><stop offset="0.8134" stop-color="#585858"/><stop offset="0.8195" stop-color="#464646"/><stop offset="0.8220" stop-color="#424242"/><stop offset="0.8244" stop-color="#414141"/><stop offset="0.9256" stop-color="#404040"/><stop offset="0.9305" stop-color="#414141"/><stop offset="0.9329" stop-color="#434343"/><stop offset="0.9354" stop-color="#484848"/><stop offset="0.9402" stop-color="#585858"/><stop offset="0.9427" stop-color="#5b5b5b"/><stop offset="0.9451" stop-color="#575757"/><stop offset="0.9488" stop-color="#4b4b4b"/><stop offset="0.9512" stop-color="#454545"/><stop offset="0.9549" stop-color="#414141"/><stop offset="1.0000" stop-color="#404040"/></linearGradient>
<linearGradient id="g24" gradientUnits="userSpaceOnUse" x1="1845" y1="0" x2="2665" y2="0"><stop offset="0.0000" stop-color="#434343"/><stop offset="0.1841" stop-color="#434343"/><stop offset="0.1878" stop-color="#434343"/><stop offset="0.1902" stop-color="#464646"/><stop offset="0.1951" stop-color="#505050"/><stop offset="0.1976" stop-color="#525252"/><stop offset="0.2000" stop-color="#505050"/><stop offset="0.2037" stop-color="#484848"/><stop offset="0.2061" stop-color="#444444"/><stop offset="0.2122" stop-color="#434343"/><stop offset="1.0000" stop-color="#434343"/></linearGradient>
<linearGradient id="s240" gradientUnits="userSpaceOnUse" x1="2149.53" y1="0" x2="2165.53" y2="0" gradientTransform="matrix(1 0 0.06633 1 0 0)"><stop offset="0.000" stop-color="#adadad" stop-opacity="0.044"/><stop offset="0.100" stop-color="#adadad" stop-opacity="0.135"/><stop offset="0.200" stop-color="#adadad" stop-opacity="0.325"/><stop offset="0.300" stop-color="#adadad" stop-opacity="0.607"/><stop offset="0.400" stop-color="#adadad" stop-opacity="0.882"/><stop offset="0.500" stop-color="#adadad" stop-opacity="1.000"/><stop offset="0.600" stop-color="#adadad" stop-opacity="0.882"/><stop offset="0.700" stop-color="#adadad" stop-opacity="0.607"/><stop offset="0.800" stop-color="#adadad" stop-opacity="0.325"/><stop offset="0.900" stop-color="#adadad" stop-opacity="0.135"/><stop offset="1.000" stop-color="#adadad" stop-opacity="0.044"/></linearGradient>
<linearGradient id="s241" gradientUnits="userSpaceOnUse" x1="2354.85" y1="0" x2="2370.85" y2="0" gradientTransform="matrix(1 0 0.06633 1 0 0)"><stop offset="0.000" stop-color="#adadad" stop-opacity="0.044"/><stop offset="0.100" stop-color="#adadad" stop-opacity="0.135"/><stop offset="0.200" stop-color="#adadad" stop-opacity="0.325"/><stop offset="0.300" stop-color="#adadad" stop-opacity="0.607"/><stop offset="0.400" stop-color="#adadad" stop-opacity="0.882"/><stop offset="0.500" stop-color="#adadad" stop-opacity="1.000"/><stop offset="0.600" stop-color="#adadad" stop-opacity="0.882"/><stop offset="0.700" stop-color="#adadad" stop-opacity="0.607"/><stop offset="0.800" stop-color="#adadad" stop-opacity="0.325"/><stop offset="0.900" stop-color="#adadad" stop-opacity="0.135"/><stop offset="1.000" stop-color="#adadad" stop-opacity="0.044"/></linearGradient>
<linearGradient id="g25" gradientUnits="userSpaceOnUse" x1="1845" y1="0" x2="2665" y2="0"><stop offset="0.0000" stop-color="#494949"/><stop offset="0.2293" stop-color="#494949"/><stop offset="0.3049" stop-color="#4b4b4b"/><stop offset="0.3098" stop-color="#4e4e4e"/><stop offset="0.3146" stop-color="#5b5b5b"/><stop offset="0.3171" stop-color="#5f5f5f"/><stop offset="0.3183" stop-color="#5e5e5e"/><stop offset="0.3232" stop-color="#525252"/><stop offset="0.3268" stop-color="#505050"/><stop offset="0.3659" stop-color="#545454"/><stop offset="0.4134" stop-color="#5d5d5d"/><stop offset="0.4390" stop-color="#6f6f6f"/><stop offset="0.4854" stop-color="#999999"/><stop offset="0.4902" stop-color="#9f9f9f"/><stop offset="0.5244" stop-color="#d2d2d2"/><stop offset="0.5402" stop-color="#e0e0e0"/><stop offset="0.5463" stop-color="#e2e2e2"/><stop offset="0.5988" stop-color="#e2e2e2"/><stop offset="0.6012" stop-color="#e1e1e1"/><stop offset="0.6024" stop-color="#dedede"/><stop offset="0.6037" stop-color="#d6d6d6"/><stop offset="0.6049" stop-color="#c9c9c9"/><stop offset="0.6085" stop-color="#929292"/><stop offset="0.6098" stop-color="#838383"/><stop offset="0.6110" stop-color="#777777"/><stop offset="0.6122" stop-color="#6f6f6f"/><stop offset="0.6146" stop-color="#646464"/><stop offset="0.6171" stop-color="#5f5f5f"/><stop offset="0.6207" stop-color="#5e5e5e"/><stop offset="0.6561" stop-color="#646464"/><stop offset="0.6573" stop-color="#666666"/><stop offset="0.6585" stop-color="#6a6a6a"/><stop offset="0.6598" stop-color="#717171"/><stop offset="0.6634" stop-color="#8e8e8e"/><stop offset="0.6646" stop-color="#959595"/><stop offset="0.6659" stop-color="#9a9a9a"/><stop offset="0.6683" stop-color="#9e9e9e"/><stop offset="0.6744" stop-color="#a3a3a3"/><stop offset="0.6756" stop-color="#a2a2a2"/><stop offset="0.6768" stop-color="#9e9e9e"/><stop offset="0.6780" stop-color="#969696"/><stop offset="0.6817" stop-color="#747474"/><stop offset="0.6829" stop-color="#6b6b6b"/><stop offset="0.6841" stop-color="#676767"/><stop offset="0.6854" stop-color="#656565"/><stop offset="0.7171" stop-color="#646464"/><stop offset="0.7195" stop-color="#656565"/><stop offset="0.7207" stop-color="#686868"/><stop offset="0.7220" stop-color="#717171"/><stop offset="0.7232" stop-color="#7f7f7f"/><stop offset="0.7268" stop-color="#b9b9b9"/><stop offset="0.7280" stop-color="#c8c8c8"/><stop offset="0.7293" stop-color="#d2d2d2"/><stop offset="0.7305" stop-color="#d8d8d8"/><stop offset="0.7317" stop-color="#dcdcdc"/><stop offset="0.7354" stop-color="#e1e1e1"/><stop offset="0.7793" stop-color="#dedede"/><stop offset="0.8061" stop-color="#d2d2d2"/><stop offset="0.8512" stop-color="#c8c8c8"/><stop offset="0.8549" stop-color="#c5c5c5"/><stop offset="0.8659" stop-color="#b1b1b1"/><stop offset="0.8695" stop-color="#adadad"/><stop offset="0.8988" stop-color="#a7a7a7"/><stop offset="0.9012" stop-color="#a8a8a8"/><stop offset="0.9037" stop-color="#acacac"/><stop offset="0.9159" stop-color="#d8d8d8"/><stop offset="0.9171" stop-color="#dbdbdb"/><stop offset="0.9195" stop-color="#dddddd"/><stop offset="1.0000" stop-color="#d9d9d9"/></linearGradient>
<linearGradient id="s250" gradientUnits="userSpaceOnUse" x1="1955.31" y1="0" x2="1964.31" y2="0" gradientTransform="matrix(1 0 0.09950 1 0 0)"><stop offset="0.000" stop-color="#bcbcbc" stop-opacity="0.044"/><stop offset="0.100" stop-color="#bcbcbc" stop-opacity="0.135"/><stop offset="0.200" stop-color="#bcbcbc" stop-opacity="0.325"/><stop offset="0.300" stop-color="#bcbcbc" stop-opacity="0.607"/><stop offset="0.400" stop-color="#bcbcbc" stop-opacity="0.882"/><stop offset="0.500" stop-color="#bcbcbc" stop-opacity="1.000"/><stop offset="0.600" stop-color="#bcbcbc" stop-opacity="0.882"/><stop offset="0.700" stop-color="#bcbcbc" stop-opacity="0.607"/><stop offset="0.800" stop-color="#bcbcbc" stop-opacity="0.325"/><stop offset="0.900" stop-color="#bcbcbc" stop-opacity="0.135"/><stop offset="1.000" stop-color="#bcbcbc" stop-opacity="0.044"/></linearGradient>
<filter id="cmL" filterUnits="userSpaceOnUse" x="0" y="0" width="2700" height="900" color-interpolation-filters="sRGB">
<feColorMatrix in="SourceGraphic" type="matrix" values="1 0 0 0 0 0 1 0 0 0 0 0 1 0 0 0 0 0 0 1" result="g"/>
<feTurbulence type="fractalNoise" baseFrequency="0.7" numOctaves="1" seed="7" result="n0"/>
<feColorMatrix in="n0" type="matrix" values="1 0 0 0 0 1 0 0 0 0 1 0 0 0 0 0 0 0 0 1" result="n1"/>
<feComponentTransfer in="n1" result="n"><feFuncR type="identity"/></feComponentTransfer>
<feComposite in="g" in2="n" operator="arithmetic" k1="0" k2="1" k3="0.1200" k4="-0.0600" result="v"/>
<feComponentTransfer in="v" result="c"><feFuncR type="table" tableValues="0.05 0.096 0.141 0.172 0.207 0.241 0.268 0.3 0.325 0.356 0.387 0.412 0.442 0.466 0.495 0.524 0.546 0.574 0.595 0.621 0.646 0.665 0.688 0.706 0.728 0.744 0.764 0.783 0.798 0.816 0.833 0.847 0.863 0.875 0.89 0.905 0.915 0.928 0.938 0.949 0.959 0.967 0.975 0.981 0.986 0.99 0.993 0.994 0.994 0.993 0.99 0.984 0.976 0.968 0.957 0.947 0.94 0.94 0.94 0.94 0.94 0.94 0.94 0.94 0.94"/><feFuncG type="table" tableValues="0.03 0.025 0.022 0.02 0.017 0.015 0.013 0.01 0.007 0.004 0.001 0.001 0.002 0.005 0.012 0.025 0.039 0.06 0.077 0.099 0.121 0.139 0.161 0.178 0.201 0.218 0.24 0.263 0.28 0.302 0.325 0.343 0.365 0.383 0.406 0.43 0.449 0.473 0.493 0.518 0.543 0.564 0.591 0.613 0.641 0.664 0.693 0.723 0.747 0.778 0.803 0.835 0.868 0.895 0.928 0.955 0.975 0.975 0.975 0.975 0.975 0.975 0.975 0.975 0.975"/><feFuncB type="table" tableValues="0.528 0.547 0.567 0.581 0.596 0.61 0.62 0.632 0.64 0.648 0.654 0.658 0.66 0.66 0.658 0.653 0.647 0.637 0.628 0.614 0.599 0.586 0.568 0.554 0.535 0.521 0.502 0.484 0.47 0.452 0.434 0.421 0.404 0.39 0.373 0.356 0.343 0.326 0.313 0.296 0.279 0.265 0.248 0.235 0.218 0.205 0.189 0.174 0.164 0.153 0.147 0.143 0.143 0.147 0.152 0.15 0.131 0.131 0.131 0.131 0.131 0.131 0.131 0.131 0.131"/></feComponentTransfer>
<feConvolveMatrix in="c" order="3" kernelMatrix="0.03 0.12 0.03 0.12 0.4 0.12 0.03 0.12 0.03" divisor="1" preserveAlpha="true" edgeMode="duplicate" result="cb"/>
<feComposite in="cb" in2="SourceAlpha" operator="in"/>
</filter>
<filter id="cmM" filterUnits="userSpaceOnUse" x="0" y="0" width="2700" height="900" color-interpolation-filters="sRGB">
<feColorMatrix in="SourceGraphic" type="matrix" values="1 0 0 0 0 0 1 0 0 0 0 0 1 0 0 0 0 0 0 1" result="g"/>
<feTurbulence type="fractalNoise" baseFrequency="0.7" numOctaves="1" seed="11" result="n0"/>
<feColorMatrix in="n0" type="matrix" values="1 0 0 0 0 1 0 0 0 0 1 0 0 0 0 0 0 0 0 1" result="n1"/>
<feComponentTransfer in="n1" result="n"><feFuncR type="identity"/></feComponentTransfer>
<feComposite in="g" in2="n" operator="arithmetic" k1="0" k2="1" k3="0.3200" k4="-0.1600" result="v"/>
<feComponentTransfer in="v" result="c"><feFuncR type="table" tableValues="0.05 0.096 0.141 0.172 0.207 0.241 0.268 0.3 0.325 0.356 0.387 0.412 0.442 0.466 0.495 0.524 0.546 0.574 0.595 0.621 0.646 0.665 0.688 0.706 0.728 0.744 0.764 0.783 0.798 0.816 0.833 0.847 0.863 0.875 0.89 0.905 0.915 0.928 0.938 0.949 0.959 0.967 0.975 0.981 0.986 0.99 0.993 0.994 0.994 0.993 0.99 0.984 0.976 0.968 0.957 0.947 0.94 0.94 0.94 0.94 0.94 0.94 0.94 0.94 0.94"/><feFuncG type="table" tableValues="0.03 0.025 0.022 0.02 0.017 0.015 0.013 0.01 0.007 0.004 0.001 0.001 0.002 0.005 0.012 0.025 0.039 0.06 0.077 0.099 0.121 0.139 0.161 0.178 0.201 0.218 0.24 0.263 0.28 0.302 0.325 0.343 0.365 0.383 0.406 0.43 0.449 0.473 0.493 0.518 0.543 0.564 0.591 0.613 0.641 0.664 0.693 0.723 0.747 0.778 0.803 0.835 0.868 0.895 0.928 0.955 0.975 0.975 0.975 0.975 0.975 0.975 0.975 0.975 0.975"/><feFuncB type="table" tableValues="0.528 0.547 0.567 0.581 0.596 0.61 0.62 0.632 0.64 0.648 0.654 0.658 0.66 0.66 0.658 0.653 0.647 0.637 0.628 0.614 0.599 0.586 0.568 0.554 0.535 0.521 0.502 0.484 0.47 0.452 0.434 0.421 0.404 0.39 0.373 0.356 0.343 0.326 0.313 0.296 0.279 0.265 0.248 0.235 0.218 0.205 0.189 0.174 0.164 0.153 0.147 0.143 0.143 0.147 0.152 0.15 0.131 0.131 0.131 0.131 0.131 0.131 0.131 0.131 0.131"/></feComponentTransfer>
<feConvolveMatrix in="c" order="3" kernelMatrix="0.03 0.12 0.03 0.12 0.4 0.12 0.03 0.12 0.03" divisor="1" preserveAlpha="true" edgeMode="duplicate" result="cb"/>
<feComposite in="cb" in2="SourceAlpha" operator="in"/>
</filter>
<filter id="cmH" filterUnits="userSpaceOnUse" x="0" y="0" width="2700" height="900" color-interpolation-filters="sRGB">
<feColorMatrix in="SourceGraphic" type="matrix" values="1 0 0 0 0 0 1 0 0 0 0 0 1 0 0 0 0 0 0 1" result="g"/>
<feTurbulence type="fractalNoise" baseFrequency="0.7" numOctaves="1" seed="7" result="n0"/>
<feColorMatrix in="n0" type="matrix" values="1 0 0 0 0 1 0 0 0 0 1 0 0 0 0 0 0 0 0 1" result="n1"/>
<feComponentTransfer in="n1" result="n"><feFuncR type="table" tableValues="0.246 0.246 0.246 0.246 0.246 0.246 0.255 0.270 0.290 0.316 0.342 0.366 0.387 0.408 0.430 0.458 0.484 0.519 0.555 0.589 0.625 0.664 0.714 0.778 0.851 0.923 0.999 1.000 1.000 1.000 1.000 1.000 1.000"/><feFuncG type="table" tableValues="0.246 0.246 0.246 0.246 0.246 0.246 0.255 0.270 0.290 0.316 0.342 0.366 0.387 0.408 0.430 0.458 0.484 0.519 0.555 0.589 0.625 0.664 0.714 0.778 0.851 0.923 0.999 1.000 1.000 1.000 1.000 1.000 1.000"/><feFuncB type="table" tableValues="0.246 0.246 0.246 0.246 0.246 0.246 0.255 0.270 0.290 0.316 0.342 0.366 0.387 0.408 0.430 0.458 0.484 0.519 0.555 0.589 0.625 0.664 0.714 0.778 0.851 0.923 0.999 1.000 1.000 1.000 1.000 1.000 1.000"/></feComponentTransfer>
<feComponentTransfer in="g" result="inv"><feFuncR type="linear" slope="-1" intercept="1"/><feFuncG type="linear" slope="-1" intercept="1"/><feFuncB type="linear" slope="-1" intercept="1"/></feComponentTransfer><feComposite in="g" in2="inv" operator="arithmetic" k1="1" k2="0" k3="0" k4="0" result="m"/><feComposite in="m" in2="n" operator="arithmetic" k1="3.4000" k2="-1.7000" k3="0.1000" k4="0.4500" result="t"/><feComposite in="g" in2="t" operator="arithmetic" k1="0" k2="1" k3="2" k4="-1" result="v"/>
<feComponentTransfer in="v" result="c"><feFuncR type="table" tableValues="0.05 0.096 0.141 0.172 0.207 0.241 0.268 0.3 0.325 0.356 0.387 0.412 0.442 0.466 0.495 0.524 0.546 0.574 0.595 0.621 0.646 0.665 0.688 0.706 0.728 0.744 0.764 0.783 0.798 0.816 0.833 0.847 0.863 0.875 0.89 0.905 0.915 0.928 0.938 0.949 0.959 0.967 0.975 0.981 0.986 0.99 0.993 0.994 0.994 0.993 0.99 0.984 0.976 0.968 0.957 0.947 0.94 0.94 0.94 0.94 0.94 0.94 0.94 0.94 0.94"/><feFuncG type="table" tableValues="0.03 0.025 0.022 0.02 0.017 0.015 0.013 0.01 0.007 0.004 0.001 0.001 0.002 0.005 0.012 0.025 0.039 0.06 0.077 0.099 0.121 0.139 0.161 0.178 0.201 0.218 0.24 0.263 0.28 0.302 0.325 0.343 0.365 0.383 0.406 0.43 0.449 0.473 0.493 0.518 0.543 0.564 0.591 0.613 0.641 0.664 0.693 0.723 0.747 0.778 0.803 0.835 0.868 0.895 0.928 0.955 0.975 0.975 0.975 0.975 0.975 0.975 0.975 0.975 0.975"/><feFuncB type="table" tableValues="0.528 0.547 0.567 0.581 0.596 0.61 0.62 0.632 0.64 0.648 0.654 0.658 0.66 0.66 0.658 0.653 0.647 0.637 0.628 0.614 0.599 0.586 0.568 0.554 0.535 0.521 0.502 0.484 0.47 0.452 0.434 0.421 0.404 0.39 0.373 0.356 0.343 0.326 0.313 0.296 0.279 0.265 0.248 0.235 0.218 0.205 0.189 0.174 0.164 0.153 0.147 0.143 0.143 0.147 0.152 0.15 0.131 0.131 0.131 0.131 0.131 0.131 0.131 0.131 0.131"/></feComponentTransfer>
<feConvolveMatrix in="c" order="3" kernelMatrix="0.03 0.12 0.03 0.12 0.4 0.12 0.03 0.12 0.03" divisor="1" preserveAlpha="true" edgeMode="duplicate" result="cb"/>
<feComposite in="cb" in2="SourceAlpha" operator="in"/>
</filter>
<clipPath id="c0"><rect x="119" y="100" width="821" height="713"/></clipPath>
<clipPath id="c1"><rect x="982" y="100" width="821" height="713"/></clipPath>
<clipPath id="c2"><rect x="1845" y="100" width="820" height="713"/></clipPath></defs>
<rect width="2700" height="900" fill="#fff"/>
<g filter="url(#cmL)"><path d="M119 145.5L939 135.5L939 195.8L119 205.8Z" fill="url(#g00)"/>
<path d="M119 145.5h1v60.3h-1Z" fill="#6f6f6f"/>
<path d="M938.0 135.51h1v60.3h-1Z" fill="#6f6f6f"/>
<path d="M119 158.1L939 148.1" stroke="#2f2f2f" stroke-width="3.25" fill="none"/>
<path d="M119 158.1L939 148.1" stroke="#6f6f6f" stroke-width="1.25" fill="none"/>
<path d="M119 194.3L939 184.3" stroke="#363636" stroke-width="3.25" fill="none"/>
<path d="M119 194.3L939 184.3" stroke="#858585" stroke-width="1.25" fill="none"/>
<path d="M119 220.6L939 210.7L939 271L119 280.9Z" fill="url(#g01)"/>
<path d="M119 220.6h1v60.3h-1Z" fill="#6f6f6f"/>
<path d="M938.0 210.71h1v60.3h-1Z" fill="#6f6f6f"/>
<path d="M119 233.2L939 223.3" stroke="#313131" stroke-width="3.25" fill="none"/>
<path d="M119 233.2L939 223.3" stroke="#6f6f6f" stroke-width="1.25" fill="none"/>
<path d="M119 269.4L939 259.5" stroke="#373737" stroke-width="3.25" fill="none"/>
<path d="M119 269.4L939 259.5" stroke="#858585" stroke-width="1.25" fill="none"/>
<path d="M982 134.8L1802 123.9L1802 184.2L982 195.1Z" fill="url(#g10)"/>
<path d="M982 134.8h1v60.3h-1Z" fill="#6f6f6f"/>
<path d="M1801.0 123.91h1v60.3h-1Z" fill="#6f6f6f"/>
<path d="M982 147.4L1802 136.5" stroke="#2e2e2e" stroke-width="3.25" fill="none"/>
<path d="M982 147.4L1802 136.5" stroke="#6f6f6f" stroke-width="1.25" fill="none"/>
<path d="M982 183.6L1802 172.7" stroke="#353535" stroke-width="3.25" fill="none"/>
<path d="M982 183.6L1802 172.7" stroke="#858585" stroke-width="1.25" fill="none"/>
<path d="M982 210.1L1802 199.7L1802 260L982 270.4Z" fill="url(#g11)"/>
<path d="M982 210.1h1v60.3h-1Z" fill="#6f6f6f"/>
<path d="M1801.0 199.71h1v60.3h-1Z" fill="#6f6f6f"/>
<path d="M982 222.7L1802 212.3" stroke="#303030" stroke-width="3.25" fill="none"/>
<path d="M982 222.7L1802 212.3" stroke="#6f6f6f" stroke-width="1.25" fill="none"/>
<path d="M982 258.9L1802 248.5" stroke="#373737" stroke-width="3.25" fill="none"/>
<path d="M982 258.9L1802 248.5" stroke="#858585" stroke-width="1.25" fill="none"/>
<path d="M1845 122.8L2665 113.3L2665 173.6L1845 183.1Z" fill="url(#g20)"/>
<path d="M1845 122.8h1v60.3h-1Z" fill="#6f6f6f"/>
<path d="M2664.0 113.31h1v60.3h-1Z" fill="#6f6f6f"/>
<path d="M1845 135.4L2665 125.9" stroke="#2e2e2e" stroke-width="3.25" fill="none"/>
<path d="M1845 135.4L2665 125.9" stroke="#6f6f6f" stroke-width="1.25" fill="none"/>
<path d="M1845 171.6L2665 162.1" stroke="#343434" stroke-width="3.25" fill="none"/>
<path d="M1845 171.6L2665 162.1" stroke="#858585" stroke-width="1.25" fill="none"/>
<path d="M1845 198.6L2665 189.2L2665 249.5L1845 258.9Z" fill="url(#g21)"/>
<path d="M1845 198.6h1v60.3h-1Z" fill="#6f6f6f"/>
<path d="M2664.0 189.21h1v60.3h-1Z" fill="#6f6f6f"/>
<path d="M1845 211.2L2665 201.8" stroke="#323232" stroke-width="3.25" fill="none"/>
<path d="M1845 211.2L2665 201.8" stroke="#6f6f6f" stroke-width="1.25" fill="none"/>
<path d="M1845 247.4L2665 238" stroke="#393939" stroke-width="3.25" fill="none"/>
<path d="M1845 247.4L2665 238" stroke="#858585" stroke-width="1.25" fill="none"/></g>
<g filter="url(#cmM)"><path d="M119 305.9L939 296.5L939 356.8L119 366.2Z" fill="url(#g02)"/>
<path d="M119 305.9h1v60.3h-1Z" fill="#6f6f6f"/>
<path d="M938.0 296.51h1v60.3h-1Z" fill="#6f6f6f"/>
<path d="M119 318.5L939 309.1" stroke="#373737" stroke-width="3.25" fill="none"/>
<path d="M119 318.5L939 309.1" stroke="#595959" stroke-width="1.25" fill="none"/>
<path d="M119 354.7L939 345.3" stroke="#3a3a3a" stroke-width="3.25" fill="none"/>
<path d="M119 354.7L939 345.3" stroke="#646464" stroke-width="1.25" fill="none"/>
<path d="M982 295.9L1802 286.1L1802 346.4L982 356.2Z" fill="url(#g12)"/>
<path d="M982 295.9h1v60.3h-1Z" fill="#6f6f6f"/>
<path d="M1801.0 286.11h1v60.3h-1Z" fill="#6f6f6f"/>
<path d="M982 308.5L1802 298.7" stroke="#383838" stroke-width="3.25" fill="none"/>
<path d="M982 308.5L1802 298.7" stroke="#595959" stroke-width="1.25" fill="none"/>
<path d="M982 344.7L1802 334.9" stroke="#3b3b3b" stroke-width="3.25" fill="none"/>
<path d="M982 344.7L1802 334.9" stroke="#646464" stroke-width="1.25" fill="none"/>
<path d="M1845 285L2665 276.3L2665 336.6L1845 345.3Z" fill="url(#g22)"/>
<path d="M1845 285h1v60.3h-1Z" fill="#6f6f6f"/>
<path d="M2664.0 276.31h1v60.3h-1Z" fill="#6f6f6f"/>
<path d="M1845 297.6L2665 288.9" stroke="#383838" stroke-width="3.25" fill="none"/>
<path d="M1845 297.6L2665 288.9" stroke="#595959" stroke-width="1.25" fill="none"/>
<path d="M1845 333.8L2665 325.1" stroke="#3b3b3b" stroke-width="3.25" fill="none"/>
<path d="M1845 333.8L2665 325.1" stroke="#646464" stroke-width="1.25" fill="none"/></g>
<g filter="url(#cmH)"><path d="M119 404.2L939 395.1L939 455.4L119 464.5Z" fill="url(#g03)"/>
<path d="M119 404.2h1v60.3h-1Z" fill="#6f6f6f"/>
<path d="M938.0 395.11h1v60.3h-1Z" fill="#6f6f6f"/>
<path d="M119 518.3L939 510L939 570.3L119 578.6Z" fill="url(#g04)"/>
<path d="M119 518.3h1v60.3h-1Z" fill="#6f6f6f"/>
<path d="M938.0 510.01h1v60.3h-1Z" fill="#6f6f6f"/>
<path d="M119 530.9L939 522.6" stroke="#474747" stroke-width="3.25" fill="none"/>
<path d="M119 530.9L939 522.6" stroke="#505050" stroke-width="1.25" fill="none"/>
<path d="M119 567.1L939 558.8" stroke="#474747" stroke-width="3.25" fill="none"/>
<path d="M119 567.1L939 558.8" stroke="#505050" stroke-width="1.25" fill="none"/>
<path d="M119 653.1L939 645.6L939 705.9L119 713.4Z" fill="url(#g05)"/>
<path d="M119 653.1L939 645.6L939 705.9L119 713.4Z" fill="url(#s050)"/>
<path d="M119 653.1h1v60.3h-1Z" fill="#6f6f6f"/>
<path d="M938.0 645.61h1v60.3h-1Z" fill="#6f6f6f"/>
<path d="M982 394.7L1802 385.4L1802 445.7L982 455Z" fill="url(#g13)"/>
<path d="M982 394.7h1v60.3h-1Z" fill="#6f6f6f"/>
<path d="M1801.0 385.41h1v60.3h-1Z" fill="#6f6f6f"/>
<path d="M982 509.3L1802 500.9L1802 561.2L982 569.6Z" fill="url(#g14)"/>
<path d="M982 509.3L1802 500.9L1802 561.2L982 569.6Z" fill="url(#s140)"/>
<path d="M982 509.3L1802 500.9L1802 561.2L982 569.6Z" fill="url(#s141)"/>
<path d="M982 509.3L1802 500.9L1802 561.2L982 569.6Z" fill="url(#s142)"/>
<path d="M982 509.3h1v60.3h-1Z" fill="#6f6f6f"/>
<path d="M1801.0 500.91h1v60.3h-1Z" fill="#6f6f6f"/>
<path d="M982 521.9L1802 513.5" stroke="#474747" stroke-width="3.25" fill="none"/>
<path d="M982 521.9L1802 513.5" stroke="#505050" stroke-width="1.25" fill="none"/>
<path d="M982 558.1L1802 549.7" stroke="#474747" stroke-width="3.25" fill="none"/>
<path d="M982 558.1L1802 549.7" stroke="#505050" stroke-width="1.25" fill="none"/>
<path d="M982 645.1L1802 637.4L1802 697.7L982 705.4Z" fill="url(#g15)"/>
<path d="M982 645.1L1802 637.4L1802 697.7L982 705.4Z" fill="url(#s150)"/>
<path d="M982 645.1h1v60.3h-1Z" fill="#6f6f6f"/>
<path d="M1801.0 637.41h1v60.3h-1Z" fill="#6f6f6f"/>
<path d="M1845 384.2L2665 376.4L2665 436.7L1845 444.5Z" fill="url(#g23)"/>
<path d="M1845 384.2h1v60.3h-1Z" fill="#6f6f6f"/>
<path d="M2664.0 376.41h1v60.3h-1Z" fill="#6f6f6f"/>
<path d="M1845 500.1L2665 492.9L2665 553.2L1845 560.4Z" fill="url(#g24)"/>
<path d="M1845 500.1L2665 492.9L2665 553.2L1845 560.4Z" fill="url(#s240)"/>
<path d="M1845 500.1L2665 492.9L2665 553.2L1845 560.4Z" fill="url(#s241)"/>
<path d="M1845 500.1h1v60.3h-1Z" fill="#6f6f6f"/>
<path d="M2664.0 492.91h1v60.3h-1Z" fill="#6f6f6f"/>
<path d="M1845 512.7L2665 505.5" stroke="#464646" stroke-width="3.25" fill="none"/>
<path d="M1845 512.7L2665 505.5" stroke="#4e4e4e" stroke-width="1.25" fill="none"/>
<path d="M1845 548.9L2665 541.7" stroke="#464646" stroke-width="3.25" fill="none"/>
<path d="M1845 548.9L2665 541.7" stroke="#4e4e4e" stroke-width="1.25" fill="none"/>
<path d="M1845 636.5L2665 630.2L2665 690.5L1845 696.8Z" fill="url(#g25)"/>
<path d="M1845 636.5L2665 630.2L2665 690.5L1845 696.8Z" fill="url(#s250)"/>
<path d="M1845 636.5h1v60.3h-1Z" fill="#6f6f6f"/>
<path d="M2664.0 630.21h1v60.3h-1Z" fill="#6f6f6f"/></g>
<g clip-path="url(#c0)"><path d="M119 149L940 138.99M119 164.6L940 154.59M119 185.2L940 175.19M119 201L940 190.99M119 224.1L940 214.19M119 239.7L940 229.79M119 260.3L940 250.39M119 276.1L940 266.19M119 309.4L940 299.99M119 325L940 315.59M119 345.6L940 336.19M119 361.4L940 351.99M119 407.7L940 398.59M119 423.3L940 414.19M119 443.9L940 434.79M119 459.7L940 450.59M119 521.8L940 513.49M119 537.4L940 529.09M119 558L940 549.69M119 573.8L940 565.49M119 656.6L940 649.09M119 672.2L940 664.69M119 692.8L940 685.29M119 708.6L940 701.09" stroke="#000" stroke-width="2.45" fill="none"/><path d="M119 149L940 138.99M119 164.6L940 154.59M119 185.2L940 175.19M119 201L940 190.99M119 224.1L940 214.19M119 239.7L940 229.79M119 260.3L940 250.39M119 276.1L940 266.19M119 309.4L940 299.99M119 325L940 315.59M119 345.6L940 336.19M119 361.4L940 351.99M119 407.7L940 398.59M119 423.3L940 414.19M119 443.9L940 434.79M119 459.7L940 450.59M119 521.8L940 513.49M119 537.4L940 529.09M119 558L940 549.69M119 573.8L940 565.49M119 656.6L940 649.09M119 672.2L940 664.69M119 692.8L940 685.29M119 708.6L940 701.09" stroke="#fff" stroke-width="2.45" fill="none" stroke-dasharray="10 10"/></g>
<g clip-path="url(#c1)"><path d="M982 138.3L1803 127.39M982 153.9L1803 142.99M982 174.5L1803 163.59M982 190.3L1803 179.39M982 213.6L1803 203.19M982 229.2L1803 218.79M982 249.8L1803 239.39M982 265.6L1803 255.19M982 299.4L1803 289.59M982 315L1803 305.19M982 335.6L1803 325.79M982 351.4L1803 341.59M982 398.2L1803 388.89M982 413.8L1803 404.49M982 434.4L1803 425.09M982 450.2L1803 440.89M982 512.8L1803 504.39M982 528.4L1803 519.99M982 549L1803 540.59M982 564.8L1803 556.39M982 648.6L1803 640.89M982 664.2L1803 656.49M982 684.8L1803 677.09M982 700.6L1803 692.89" stroke="#000" stroke-width="2.45" fill="none"/><path d="M982 138.3L1803 127.39M982 153.9L1803 142.99M982 174.5L1803 163.59M982 190.3L1803 179.39M982 213.6L1803 203.19M982 229.2L1803 218.79M982 249.8L1803 239.39M982 265.6L1803 255.19M982 299.4L1803 289.59M982 315L1803 305.19M982 335.6L1803 325.79M982 351.4L1803 341.59M982 398.2L1803 388.89M982 413.8L1803 404.49M982 434.4L1803 425.09M982 450.2L1803 440.89M982 512.8L1803 504.39M982 528.4L1803 519.99M982 549L1803 540.59M982 564.8L1803 556.39M982 648.6L1803 640.89M982 664.2L1803 656.49M982 684.8L1803 677.09M982 700.6L1803 692.89" stroke="#fff" stroke-width="2.45" fill="none" stroke-dasharray="10 10"/></g>
<g clip-path="url(#c2)"><path d="M1845 126.3L2666 116.79M1845 141.9L2666 132.39M1845 162.5L2666 152.99M1845 178.3L2666 168.79M1845 202.1L2666 192.69M1845 217.7L2666 208.29M1845 238.3L2666 228.89M1845 254.1L2666 244.69M1845 288.5L2666 279.79M1845 304.1L2666 295.39M1845 324.7L2666 315.99M1845 340.5L2666 331.79M1845 387.7L2666 379.89M1845 403.3L2666 395.49M1845 423.9L2666 416.09M1845 439.7L2666 431.89M1845 503.6L2666 496.39M1845 519.2L2666 511.99M1845 539.8L2666 532.59M1845 555.6L2666 548.39M1845 640L2666 633.69M1845 655.6L2666 649.29M1845 676.2L2666 669.89M1845 692L2666 685.69" stroke="#000" stroke-width="2.45" fill="none"/><path d="M1845 126.3L2666 116.79M1845 141.9L2666 132.39M1845 162.5L2666 152.99M1845 178.3L2666 168.79M1845 202.1L2666 192.69M1845 217.7L2666 208.29M1845 238.3L2666 228.89M1845 254.1L2666 244.69M1845 288.5L2666 279.79M1845 304.1L2666 295.39M1845 324.7L2666 315.99M1845 340.5L2666 331.79M1845 387.7L2666 379.89M1845 403.3L2666 395.49M1845 423.9L2666 416.09M1845 439.7L2666 431.89M1845 503.6L2666 496.39M1845 519.2L2666 511.99M1845 539.8L2666 532.59M1845 555.6L2666 548.39M1845 640L2666 633.69M1845 655.6L2666 649.29M1845 676.2L2666 669.89M1845 692L2666 685.69" stroke="#fff" stroke-width="2.45" fill="none" stroke-dasharray="10 10"/></g>
<rect x="119" y="100" width="821" height="713" fill="none" stroke="#000" stroke-width="1.67"/>
<path d="M119.00 813v7.3M119 812.60h-7.3M219.22 813v7.3M119 725.52h-7.3M319.44 813v7.3M119 638.45h-7.3M419.66 813v7.3M119 551.38h-7.3M519.88 813v7.3M119 464.30h-7.3M620.10 813v7.3M119 377.23h-7.3M720.32 813v7.3M119 290.15h-7.3M820.54 813v7.3M119 203.08h-7.3M920.76 813v7.3M119 116.00h-7.3" stroke="#000" stroke-width="1.67" fill="none"/>
<rect x="982" y="100" width="821" height="713" fill="none" stroke="#000" stroke-width="1.67"/>
<path d="M982.00 813v7.3M982 812.60h-7.3M1082.22 813v7.3M982 725.52h-7.3M1182.44 813v7.3M982 638.45h-7.3M1282.66 813v7.3M982 551.38h-7.3M1382.88 813v7.3M982 464.30h-7.3M1483.10 813v7.3M982 377.23h-7.3M1583.32 813v7.3M982 290.15h-7.3M1683.54 813v7.3M982 203.08h-7.3M1783.76 813v7.3M982 116.00h-7.3" stroke="#000" stroke-width="1.67" fill="none"/>
<rect x="1845" y="100" width="820" height="713" fill="none" stroke="#000" stroke-width="1.67"/>
<path d="M1845.00 813v7.3M1845 812.60h-7.3M1945.22 813v7.3M1845 725.52h-7.3M2045.44 813v7.3M1845 638.45h-7.3M2145.66 813v7.3M1845 551.38h-7.3M2245.88 813v7.3M1845 464.30h-7.3M2346.10 813v7.3M1845 377.23h-7.3M2446.32 813v7.3M1845 290.15h-7.3M2546.54 813v7.3M1845 203.08h-7.3M2646.76 813v7.3M1845 116.00h-7.3" stroke="#000" stroke-width="1.67" fill="none"/>
<text x="1350.00" y="34.00" font-size="21.2" text-anchor="middle" textLength="635.43" lengthAdjust="spacingAndGlyphs" xml:space="preserve">HD_104839_M4368_2024-06-20_00230  (extract_height=45)</text>
<text x="529.50" y="87.30" font-size="25.45" text-anchor="middle" textLength="74.61" lengthAdjust="spacingAndGlyphs">CHIP1</text>
<text x="119.00" y="842.80" font-size="21.2" text-anchor="middle" textLength="13.25" lengthAdjust="spacingAndGlyphs">0</text>
<text x="219.22" y="842.80" font-size="21.2" text-anchor="middle" textLength="39.76" lengthAdjust="spacingAndGlyphs">250</text>
<text x="319.44" y="842.80" font-size="21.2" text-anchor="middle" textLength="39.76" lengthAdjust="spacingAndGlyphs">500</text>
<text x="419.66" y="842.80" font-size="21.2" text-anchor="middle" textLength="39.76" lengthAdjust="spacingAndGlyphs">750</text>
<text x="519.88" y="842.80" font-size="21.2" text-anchor="middle" textLength="53.02" lengthAdjust="spacingAndGlyphs">1000</text>
<text x="620.10" y="842.80" font-size="21.2" text-anchor="middle" textLength="53.02" lengthAdjust="spacingAndGlyphs">1250</text>
<text x="720.32" y="842.80" font-size="21.2" text-anchor="middle" textLength="53.02" lengthAdjust="spacingAndGlyphs">1500</text>
<text x="820.54" y="842.80" font-size="21.2" text-anchor="middle" textLength="53.02" lengthAdjust="spacingAndGlyphs">1750</text>
<text x="920.76" y="842.80" font-size="21.2" text-anchor="middle" textLength="53.02" lengthAdjust="spacingAndGlyphs">2000</text>
<text x="529.50" y="871.70" font-size="21.2" text-anchor="middle" textLength="49.31" lengthAdjust="spacingAndGlyphs">pixel</text>
<text x="1392.50" y="87.30" font-size="25.45" text-anchor="middle" textLength="74.61" lengthAdjust="spacingAndGlyphs">CHIP2</text>
<text x="982.00" y="842.80" font-size="21.2" text-anchor="middle" textLength="13.25" lengthAdjust="spacingAndGlyphs">0</text>
<text x="1082.22" y="842.80" font-size="21.2" text-anchor="middle" textLength="39.76" lengthAdjust="spacingAndGlyphs">250</text>
<text x="1182.44" y="842.80" font-size="21.2" text-anchor="middle" textLength="39.76" lengthAdjust="spacingAndGlyphs">500</text>
<text x="1282.66" y="842.80" font-size="21.2" text-anchor="middle" textLength="39.76" lengthAdjust="spacingAndGlyphs">750</text>
<text x="1382.88" y="842.80" font-size="21.2" text-anchor="middle" textLength="53.02" lengthAdjust="spacingAndGlyphs">1000</text>
<text x="1483.10" y="842.80" font-size="21.2" text-anchor="middle" textLength="53.02" lengthAdjust="spacingAndGlyphs">1250</text>
<text x="1583.32" y="842.80" font-size="21.2" text-anchor="middle" textLength="53.02" lengthAdjust="spacingAndGlyphs">1500</text>
<text x="1683.54" y="842.80" font-size="21.2" text-anchor="middle" textLength="53.02" lengthAdjust="spacingAndGlyphs">1750</text>
<text x="1783.76" y="842.80" font-size="21.2" text-anchor="middle" textLength="53.02" lengthAdjust="spacingAndGlyphs">2000</text>
<text x="1392.50" y="871.70" font-size="21.2" text-anchor="middle" textLength="49.31" lengthAdjust="spacingAndGlyphs">pixel</text>
<text x="2255.50" y="87.30" font-size="25.45" text-anchor="middle" textLength="74.61" lengthAdjust="spacingAndGlyphs">CHIP3</text>
<text x="1845.00" y="842.80" font-size="21.2" text-anchor="middle" textLength="13.25" lengthAdjust="spacingAndGlyphs">0</text>
<text x="1945.22" y="842.80" font-size="21.2" text-anchor="middle" textLength="39.76" lengthAdjust="spacingAndGlyphs">250</text>
<text x="2045.44" y="842.80" font-size="21.2" text-anchor="middle" textLength="39.76" lengthAdjust="spacingAndGlyphs">500</text>
<text x="2145.66" y="842.80" font-size="21.2" text-anchor="middle" textLength="39.76" lengthAdjust="spacingAndGlyphs">750</text>
<text x="2245.88" y="842.80" font-size="21.2" text-anchor="middle" textLength="53.02" lengthAdjust="spacingAndGlyphs">1000</text>
<text x="2346.10" y="842.80" font-size="21.2" text-anchor="middle" textLength="53.02" lengthAdjust="spacingAndGlyphs">1250</text>
<text x="2446.32" y="842.80" font-size="21.2" text-anchor="middle" textLength="53.02" lengthAdjust="spacingAndGlyphs">1500</text>
<text x="2546.54" y="842.80" font-size="21.2" text-anchor="middle" textLength="53.02" lengthAdjust="spacingAndGlyphs">1750</text>
<text x="2646.76" y="842.80" font-size="21.2" text-anchor="middle" textLength="53.02" lengthAdjust="spacingAndGlyphs">2000</text>
<text x="2255.50" y="871.70" font-size="21.2" text-anchor="middle" textLength="49.31" lengthAdjust="spacingAndGlyphs">pixel</text>
<text x="104.40" y="820.10" font-size="21.2" text-anchor="end" textLength="13.25" lengthAdjust="spacingAndGlyphs">0</text>
<text x="104.40" y="733.02" font-size="21.2" text-anchor="end" textLength="39.76" lengthAdjust="spacingAndGlyphs">250</text>
<text x="104.40" y="645.95" font-size="21.2" text-anchor="end" textLength="39.76" lengthAdjust="spacingAndGlyphs">500</text>
<text x="104.40" y="558.88" font-size="21.2" text-anchor="end" textLength="39.76" lengthAdjust="spacingAndGlyphs">750</text>
<text x="104.40" y="471.80" font-size="21.2" text-anchor="end" textLength="53.02" lengthAdjust="spacingAndGlyphs">1000</text>
<text x="104.40" y="384.73" font-size="21.2" text-anchor="end" textLength="53.02" lengthAdjust="spacingAndGlyphs">1250</text>
<text x="104.40" y="297.65" font-size="21.2" text-anchor="end" textLength="53.02" lengthAdjust="spacingAndGlyphs">1500</text>
<text x="104.40" y="210.58" font-size="21.2" text-anchor="end" textLength="53.02" lengthAdjust="spacingAndGlyphs">1750</text>
<text x="104.40" y="123.50" font-size="21.2" text-anchor="end" textLength="53.02" lengthAdjust="spacingAndGlyphs">2000</text>
<g transform="translate(39.8 458.0) rotate(-90)"><text x="0.00" y="0.00" font-size="21.2" text-anchor="middle" textLength="49.31" lengthAdjust="spacingAndGlyphs">pixel</text></g>
</svg></body></html>
